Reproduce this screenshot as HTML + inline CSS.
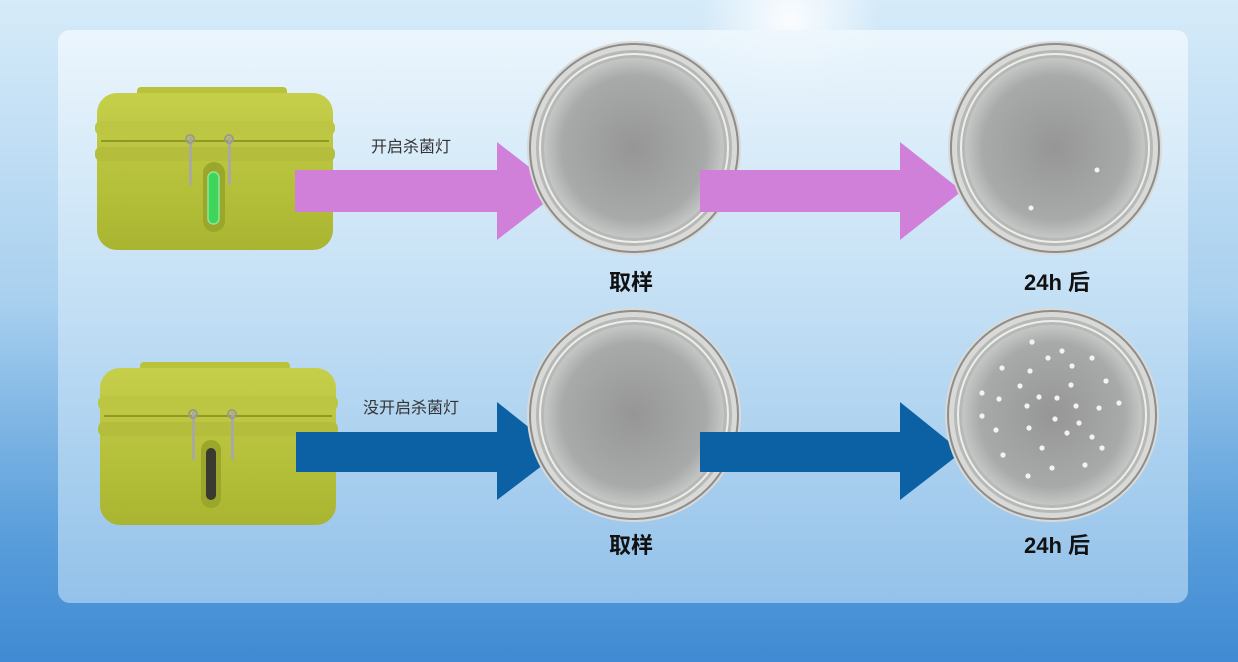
<!DOCTYPE html>
<html><head><meta charset="utf-8"><style>
html,body{margin:0;padding:0;width:1238px;height:662px;overflow:hidden}
</style></head><body>
<svg width="1238" height="662" viewBox="0 0 1238 662" xmlns="http://www.w3.org/2000/svg" font-family="Liberation Sans, Noto Sans CJK SC, sans-serif">
<defs>
<linearGradient id="bg" x1="0" y1="0" x2="0" y2="1">
<stop offset="0" stop-color="#d6ebf9"/><stop offset="0.45" stop-color="#a9d0ef"/><stop offset="0.8" stop-color="#5b9fdb"/><stop offset="1" stop-color="#3f8ad3"/></linearGradient>
<linearGradient id="panel" x1="0" y1="0" x2="0" y2="1">
<stop offset="0" stop-color="#eef7fd"/><stop offset="0.5" stop-color="#c4e0f5"/><stop offset="1" stop-color="#9cc7ec"/></linearGradient>
<radialGradient id="sun" cx="0.5" cy="0.5" r="0.5"><stop offset="0" stop-color="#fff" stop-opacity="0.9"/><stop offset="1" stop-color="#fff" stop-opacity="0"/></radialGradient>
<radialGradient id="agar" cx="0.5" cy="0.5" r="0.5"><stop offset="0" stop-color="#959695"/><stop offset="0.8" stop-color="#a8aaa9"/><stop offset="1" stop-color="#c5c7c6"/></radialGradient>
<linearGradient id="caseg" x1="0" y1="0" x2="0" y2="1"><stop offset="0" stop-color="#c6cf4a"/><stop offset="1" stop-color="#a9b530"/></linearGradient>
<g id="dish">
<circle r="107" fill="#d9dad8"/>
<circle r="104" fill="none" stroke="#8d8e8c" stroke-width="2"/>
<circle r="98" fill="#b7b9b7"/>
<circle r="94" fill="none" stroke="#eeeeec" stroke-width="2"/>
<circle r="90" fill="url(#agar)"/>
</g>
<g id="suitcase">
<rect x="40" y="0" width="150" height="10" rx="4" fill="#b8c23b"/>
<rect x="0" y="6" width="236" height="157" rx="20" fill="url(#caseg)"/>
<rect x="-2" y="34" width="240" height="14" rx="6" fill="#bcc643"/>
<rect x="-2" y="60" width="240" height="14" rx="6" fill="#b4be3c"/>
<line x1="4" y1="54" x2="232" y2="54" stroke="#8f9a26" stroke-width="2"/>
<rect x="92" y="50" width="3" height="48" fill="#a9a9a0"/>
<rect x="131" y="50" width="3" height="48" fill="#a9a9a0"/>
<circle cx="93" cy="52" r="4" fill="none" stroke="#9a9a90" stroke-width="2"/>
<circle cx="132" cy="52" r="4" fill="none" stroke="#9a9a90" stroke-width="2"/>
</g>
</defs>
<rect width="1238" height="662" fill="url(#bg)"/>
<circle cx="790" cy="20" r="90" fill="url(#sun)"/>
<rect x="58" y="30" width="1130" height="573" rx="12" fill="url(#panel)" opacity="0.9"/>

<!-- top row -->
<use href="#suitcase" x="97" y="87"/>
<rect x="203" y="162" width="22" height="70" rx="11" fill="#9aa72a"/>
<rect x="208" y="172" width="11" height="52" rx="5.5" fill="#3fd45a" stroke="#8fe59c" stroke-width="1.5"/>
<polygon points="295,170 497,170 497,142 560,191 497,240 497,212 295,212" fill="#d080d8"/>
<use href="#dish" x="634" y="148"/>
<polygon points="700,170 900,170 900,142 962,191 900,240 900,212 700,212" fill="#d080d8"/>
<use href="#dish" x="1055" y="148"/>
<circle cx="1097" cy="170" r="2.5" fill="#f4f4ee"/>
<circle cx="1031" cy="208" r="2.5" fill="#f4f4ee"/>
<text x="411" y="152" font-size="16" fill="#333" text-anchor="middle">开启杀菌灯</text>
<text x="631" y="290" font-size="22" font-weight="bold" fill="#111" text-anchor="middle">取样</text>
<text x="1057" y="290" font-size="22" font-weight="bold" fill="#111" text-anchor="middle">24h 后</text>

<!-- bottom row -->
<use href="#suitcase" x="100" y="362"/>
<rect x="201" y="440" width="20" height="68" rx="10" fill="#9aa72a"/>
<rect x="206" y="448" width="10" height="52" rx="5" fill="#3a3a30"/>
<polygon points="296,432 497,432 497,402 560,452 497,500 497,472 296,472" fill="#0b61a3"/>
<use href="#dish" x="634" y="415"/>
<polygon points="700,432 900,432 900,402 962,452 900,500 900,472 700,472" fill="#0b61a3"/>
<use href="#dish" x="1052" y="415"/>
<g fill="#f4f4ee">
<circle cx="1032" cy="342" r="2.6"/><circle cx="1062" cy="351" r="2.6"/><circle cx="1048" cy="358" r="2.6"/><circle cx="1092" cy="358" r="2.6"/><circle cx="1002" cy="368" r="2.6"/><circle cx="1030" cy="371" r="2.6"/><circle cx="1072" cy="366" r="2.6"/><circle cx="1106" cy="381" r="2.6"/><circle cx="1020" cy="386" r="2.6"/><circle cx="1071" cy="385" r="2.6"/><circle cx="982" cy="393" r="2.6"/><circle cx="999" cy="399" r="2.6"/><circle cx="1039" cy="397" r="2.6"/><circle cx="1057" cy="398" r="2.6"/><circle cx="1027" cy="406" r="2.6"/><circle cx="1076" cy="406" r="2.6"/><circle cx="1099" cy="408" r="2.6"/><circle cx="1119" cy="403" r="2.6"/><circle cx="982" cy="416" r="2.6"/><circle cx="1055" cy="419" r="2.6"/><circle cx="1079" cy="423" r="2.6"/><circle cx="996" cy="430" r="2.6"/><circle cx="1029" cy="428" r="2.6"/><circle cx="1067" cy="433" r="2.6"/><circle cx="1092" cy="437" r="2.6"/><circle cx="1042" cy="448" r="2.6"/><circle cx="1102" cy="448" r="2.6"/><circle cx="1003" cy="455" r="2.6"/><circle cx="1085" cy="465" r="2.6"/><circle cx="1052" cy="468" r="2.6"/><circle cx="1028" cy="476" r="2.6"/>
</g>
<text x="411" y="413" font-size="16" fill="#333" text-anchor="middle">没开启杀菌灯</text>
<text x="631" y="553" font-size="22" font-weight="bold" fill="#111" text-anchor="middle">取样</text>
<text x="1057" y="553" font-size="22" font-weight="bold" fill="#111" text-anchor="middle">24h 后</text>
</svg>
</body></html>
